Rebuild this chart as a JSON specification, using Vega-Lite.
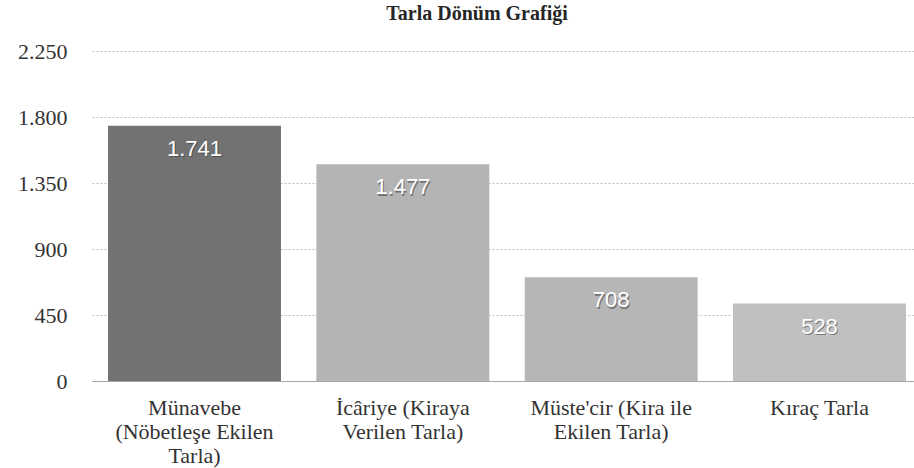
{
  "$schema": "https://vega.github.io/schema/vega-lite/v6.json",
  "autosize": "none",
  "width": 830,
  "height": 330,
  "padding": {"left": 92, "top": 51, "right": 0, "bottom": 87},
  "background": "white",
  "config": {
    "locale": {"number": {"decimal": ",", "thousands": ".", "grouping": [3], "currency": ["", ""]}},
    "view": {"stroke": null},
    "font": "Liberation Serif, Times New Roman, serif"
  },
  "title": {
    "text": "Tarla Dönüm Grafiği",
    "font": "Liberation Serif, Times New Roman, serif",
    "fontSize": 20,
    "fontWeight": "bold",
    "color": "#262626",
    "anchor": "middle",
    "dx": -30,
    "offset": 16
  },
  "data": {
    "values": [
      {"kategori": "Münavebe (Nöbetleşe Ekilen Tarla)", "donum": 1741},
      {"kategori": "İcâriye (Kiraya Verilen Tarla)", "donum": 1477},
      {"kategori": "Müste'cir (Kira ile Ekilen Tarla)", "donum": 708},
      {"kategori": "Kıraç Tarla", "donum": 528}
    ]
  },
  "encoding": {
    "x": {
      "field": "kategori",
      "type": "nominal",
      "sort": null,
      "scale": {"paddingInner": 0.17, "paddingOuter": 0.077},
      "axis": {
        "title": null,
        "labelAngle": 0,
        "labelFont": "Liberation Serif, Times New Roman, serif",
        "labelFontSize": 22,
        "labelColor": "#333333",
        "labelLineHeight": 24,
        "labelPadding": 16,
        "ticks": false,
        "domainColor": "#a6a6a6",
        "domainWidth": 1,
        "labelExpr": "datum.value == 'Münavebe (Nöbetleşe Ekilen Tarla)' ? ['Münavebe', '(Nöbetleşe Ekilen', 'Tarla)'] : datum.value == 'İcâriye (Kiraya Verilen Tarla)' ? ['İcâriye (Kiraya', 'Verilen Tarla)'] : datum.value == \"Müste'cir (Kira ile Ekilen Tarla)\" ? [\"Müste'cir (Kira ile\", 'Ekilen Tarla)'] : datum.value"
      }
    },
    "y": {
      "field": "donum",
      "type": "quantitative",
      "scale": {"domain": [0, 2250]},
      "axis": {
        "title": null,
        "values": [0, 450, 900, 1350, 1800, 2250],
        "format": ",d",
        "labelFont": "Liberation Serif, Times New Roman, serif",
        "labelFontSize": 22,
        "labelColor": "#333333",
        "labelPadding": 25,
        "ticks": false,
        "domain": false,
        "grid": true,
        "gridColor": "#bfbfbf",
        "gridDash": [2, 2],
        "gridWidth": 1
      }
    }
  },
  "layer": [
    {
      "mark": {"type": "bar"},
      "encoding": {
        "color": {
          "field": "kategori",
          "type": "nominal",
          "sort": null,
          "legend": null,
          "scale": {"range": ["#727272", "#b4b4b4", "#b6b6b6", "#c0c0c0"]}
        }
      }
    },
    {
      "mark": {"type": "text", "baseline": "middle", "dy": 24.5, "dx": 1, "font": "Liberation Sans, Arial, sans-serif", "fontSize": 22, "fill": "#333333", "opacity": 0.5},
      "encoding": {"text": {"field": "donum", "type": "quantitative", "format": ",d"}}
    },
    {
      "mark": {"type": "text", "baseline": "middle", "dy": 23, "font": "Liberation Sans, Arial, sans-serif", "fontSize": 22, "fill": "#ffffff"},
      "encoding": {"text": {"field": "donum", "type": "quantitative", "format": ",d"}}
    }
  ]
}
